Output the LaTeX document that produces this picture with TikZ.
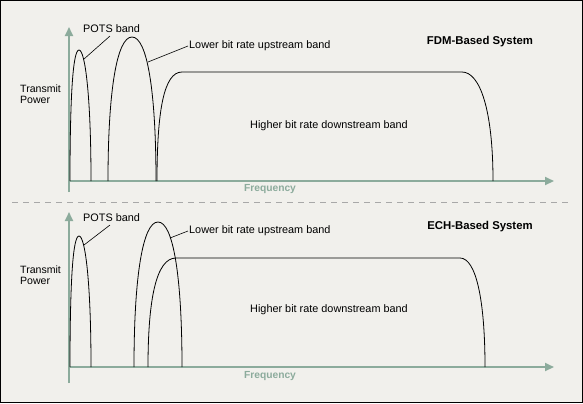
\documentclass[tikz,border=0pt]{standalone}
\usepackage{fontspec}
\setmainfont{Liberation Sans}
\usetikzlibrary{arrows.meta}
\definecolor{bg}{HTML}{F1F0EC}
\definecolor{axisc}{HTML}{8CAB9C}
\definecolor{dashc}{HTML}{A8A8A8}
\tikzset{
  axis/.style={draw=axisc,line width=2bp,-{Triangle[length=9bp,width=8bp]}},
  axisnoarrow/.style={draw=axisc,line width=2bp},
  band/.style={draw=black,line width=0.8bp},
  leader/.style={draw=black,line width=0.6bp},
  lbl/.style={font=\fontsize{10.9}{12}\selectfont,inner sep=1bp},
  ttl/.style={font=\fontsize{11.4}{12}\selectfont\bfseries,inner sep=1bp},
  freq/.style={font=\fontsize{10.3}{11}\selectfont\bfseries,text=axisc,inner sep=1bp},
  ylbl/.style={font=\fontsize{10.6}{11.5}\selectfont,align=left,inner sep=1bp}
}
\begin{document}
\begin{tikzpicture}[x=1bp,y=-1bp]
\path[fill=bg,draw=black,line width=1bp] (0.5,0.5) rectangle (582.5,402.5);
\useasboundingbox (0,0) rectangle (583,403);
% separator
\coordinate (sepL) at (12,202);
\coordinate (sepR) at (572,202);
\draw[dashc,line width=1bp,dash pattern=on 6bp off 5bp] (sepL) -- (sepR);

% ================= top panel =================
\coordinate (tO) at (69,181);
\coordinate (tYtop) at (69,27);
\coordinate (tYbot) at (69,192);
\coordinate (tXend) at (554,181);
\draw[axisnoarrow] (tYbot) -- (tO);
\draw[axis] (tO) -- (tYtop);
\draw[axis] (tO) -- (tXend);
\node[freq] (tfreq) at (270,189) {Frequency};
\node[ylbl,anchor=west] (tpow) at (19,94) {Transmit\\Power};
% POTS
\draw[band] (70,181) .. controls (70,95) and (73,50) .. (79,50) .. controls (85,50) and (91,95) .. (91,181);
\node[lbl,anchor=west] (tpots) at (82,29) {POTS band};
\coordinate (tpotsc) at (84,59);
\draw[leader] (110,36) -- (tpotsc);
% upstream
\draw[band] (108,181) .. controls (108,90) and (117,37) .. (132,37) .. controls (147,37) and (156,90) .. (156,181);
\node[lbl,anchor=west] (tup) at (188,46) {Lower bit rate upstream band};
\coordinate (tupc) at (148,62);
\draw[leader] (tup.west) -- (tupc);
% downstream
\draw[band] (157,181) .. controls (157,110) and (164,72) .. (182,72) -- (462,72) .. controls (480,72) and (493,110) .. (493,181);
\node[lbl] (tdown) at (329,126) {Higher bit rate downstream band};
\node[ttl] (tttl) at (480,42) {FDM-Based System};

% ================= bottom panel =================
\coordinate (bO) at (69,367);
\coordinate (bYtop) at (69,212);
\coordinate (bYbot) at (69,383);
\coordinate (bXend) at (554,367);
\draw[axisnoarrow] (bYbot) -- (bO);
\draw[axis] (bO) -- (bYtop);
\draw[axis] (bO) -- (bXend);
\node[freq] (bfreq) at (270,376) {Frequency};
\node[ylbl,anchor=west] (bpow) at (19,275) {Transmit\\Power};
% POTS
\draw[band] (70,367) .. controls (70,280) and (73,236) .. (79,236) .. controls (85,236) and (91,280) .. (91,367);
\node[lbl,anchor=west] (bpots) at (82,218) {POTS band};
\coordinate (bpotsc) at (84,245);
\draw[leader] (110,225) -- (bpotsc);
% upstream
\draw[band] (134,367) .. controls (134,275) and (143,222) .. (158,222) .. controls (173,222) and (182,275) .. (182,367);
\node[lbl,anchor=west] (bup) at (188,231) {Lower bit rate upstream band};
\coordinate (bupc) at (170,238);
\draw[leader] (bup.west) -- (bupc);
% downstream
\draw[band] (148,367) .. controls (148,300) and (156,258) .. (176,258) -- (460,258) .. controls (476,258) and (485,300) .. (485,367);
\node[lbl] (bdown) at (329,310) {Higher bit rate downstream band};
\node[ttl] (bttl) at (480,227) {ECH-Based System};
\end{tikzpicture}
\end{document}
